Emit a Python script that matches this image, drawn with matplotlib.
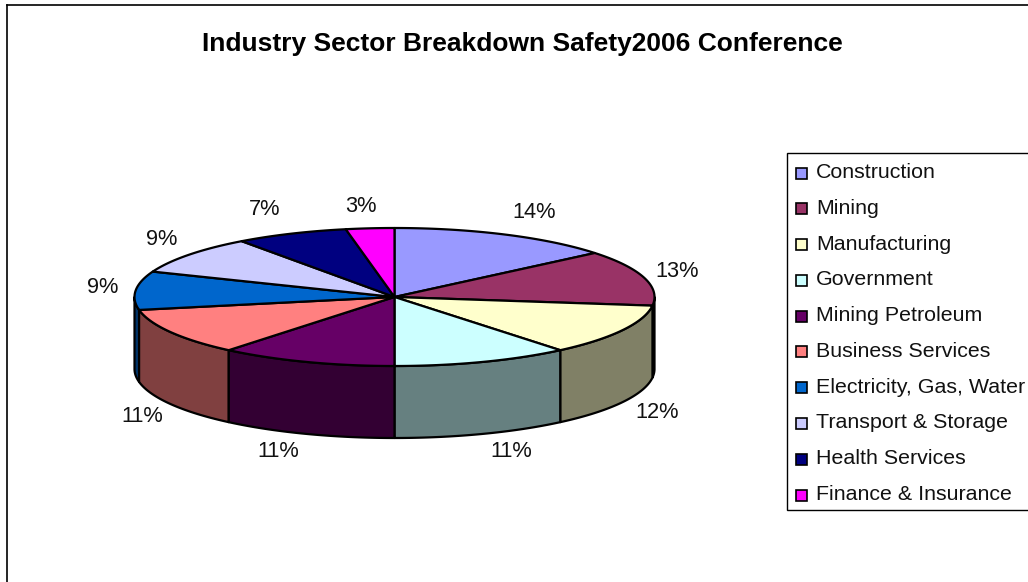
import numpy as np
import matplotlib
matplotlib.use('Agg')
import matplotlib.pyplot as plt
from matplotlib.patches import Polygon, Rectangle

plt.rcParams['font.family'] = ['Liberation Sans', 'DejaVu Sans']

# chart data
title = 'Industry Sector Breakdown Safety2006 Conference'
sectors = ['Construction', 'Mining', 'Manufacturing', 'Government', 'Mining Petroleum',
           'Business Services', 'Electricity, Gas, Water', 'Transport & Storage',
           'Health Services', 'Finance & Insurance']
percent = [14, 13, 12, 11, 11, 11, 9, 9, 7, 3]
colors = ['#9999FF', '#993366', '#FFFFCC', '#CCFFFF', '#660066',
          '#FF8080', '#0066CC', '#CCCCFF', '#000080', '#FF00FF']
label_x = [534, 677, 657, 511, 278, 142, 103, 162, 265, 361]
label_y = [218, 277, 418, 457, 457, 422, 293, 245, 215, 212]

# pie geometry in pixels
cx, cy = 394.5, 297
rx, ry = 260, 69
depth = 72


def ellipse_pts(a0, a1, drop=0):
    t = np.radians(np.linspace(a0, a1, 120))
    return np.column_stack([cx + rx * np.sin(t), cy - ry * np.cos(t) + drop])


def shade(c):
    rgb = np.array(matplotlib.colors.to_rgb(c))
    return tuple(rgb * 0.5)


fig = plt.figure(figsize=(10.28, 5.82), dpi=100)
ax = fig.add_axes([0, 0, 1, 1])
ax.set_xlim(0, 1028)
ax.set_ylim(582, 0)
ax.axis('off')

# chart frame (no bottom or right edge in the crop)
ax.plot([6.5, 6.5], [582, 5], color='black', lw=1.2)
ax.plot([6.5, 1028], [5, 5], color='black', lw=1.2)

ax.text(522, 51.5, title, ha='center', va='baseline', fontsize=19, fontweight='bold')

edges = np.concatenate([[0], np.cumsum(percent)]) * 360.0 / sum(percent)

# side walls, only the front half of the ring shows
order = []
for i in range(len(percent)):
    a0 = max(edges[i], 90)
    a1 = min(edges[i + 1], 270)
    if a1 > a0:
        order.append((i, a0, a1))
order.sort(key=lambda s: abs((s[1] + s[2]) / 2 - 180), reverse=True)
for i, a0, a1 in order:
    upper = ellipse_pts(a0, a1)
    lower = ellipse_pts(a1, a0, depth)
    ax.add_patch(Polygon(np.vstack([upper, lower]), closed=True, facecolor=shade(colors[i]),
                         edgecolor='black', lw=1.6, joinstyle='round'))

# top face
for i in range(len(percent)):
    pts = np.vstack([[cx, cy], ellipse_pts(edges[i], edges[i + 1])])
    ax.add_patch(Polygon(pts, closed=True, facecolor=colors[i], edgecolor='black', lw=1.6,
                         joinstyle='round'))

# percent labels
for p, x, y in zip(percent, label_x, label_y):
    ax.text(x, y, '%d%%' % p, ha='center', va='baseline', fontsize=15.7, color='#111111')

# legend
ax.add_patch(Rectangle((787, 153), 245, 357, facecolor='white', edgecolor='black', lw=1.0,
                       clip_on=True))
leg_y = np.linspace(171, 493, len(sectors))
for name, c, y in zip(sectors, colors, leg_y):
    ax.add_patch(Rectangle((796, y - 3.5), 11, 11, facecolor=c, edgecolor='black', lw=1.2))
    ax.text(816, y + 7, name, ha='left', va='baseline', fontsize=15.4, color='#111111')

fig.savefig('out.png', dpi=100)
